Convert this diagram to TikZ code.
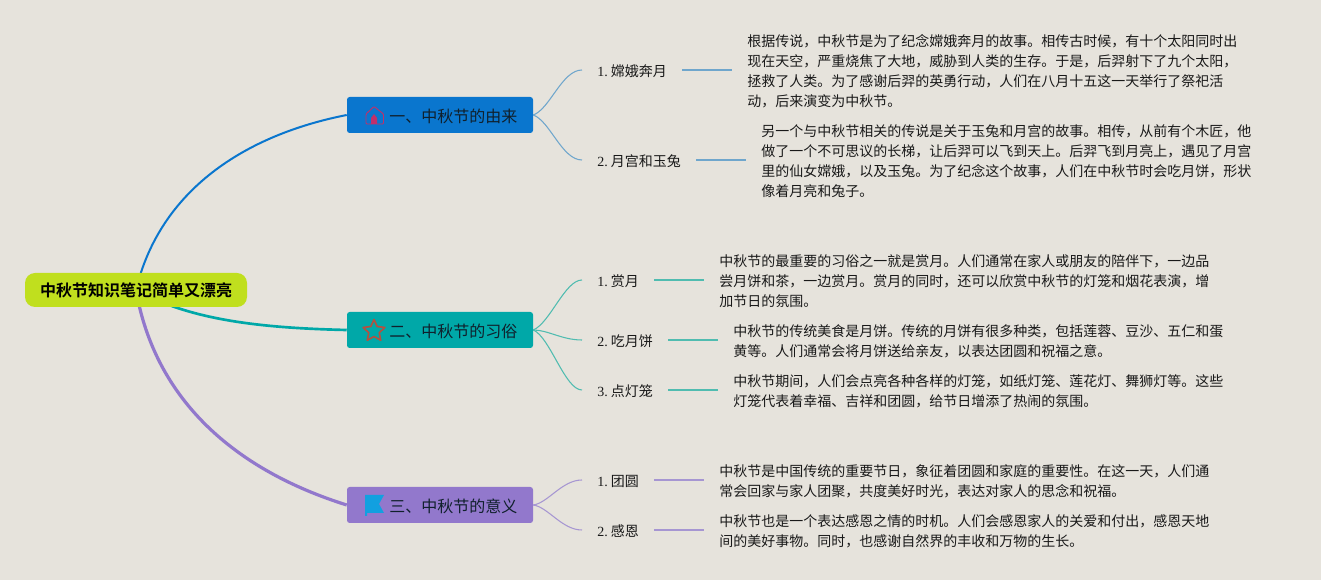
\documentclass[tikz,border=0pt]{standalone}
\usepackage{fontspec}
\setmainfont{Liberation Serif}
\newfontfamily\cjk{Noto Sans CJK SC}
\newfontfamily\cjkb{Noto Sans CJK SC Bold}
\usetikzlibrary{backgrounds,shapes.geometric}
\definecolor{bgc}{HTML}{E6E3DC}
\definecolor{rootc}{HTML}{C0DF1E}
\definecolor{blc}{HTML}{0A76CE}
\definecolor{tlc}{HTML}{00A8A8}
\definecolor{puc}{HTML}{9278CC}
\definecolor{bls}{HTML}{6FA6CC}
\definecolor{tls}{HTML}{50BCB0}
\definecolor{pus}{HTML}{A696D2}
\definecolor{homec}{HTML}{C0306A}
\definecolor{starc}{HTML}{B5503F}
\definecolor{flagc}{HTML}{12A0E0}
\definecolor{inkc}{HTML}{10202C}
\tikzset{
  rootbox/.style={fill=rootc,rounded corners=7.5pt,minimum width=222*.75pt,minimum height=34*.75pt,inner sep=0pt,font=\cjkb\fontsize{12}{14}\selectfont,text=black},
  branchbox/.style={rounded corners=2pt,minimum width=186*.75pt,minimum height=36*.75pt,inner sep=0pt},
  branchtext/.style={anchor=west,inner sep=0pt,font=\cjk\fontsize{12}{14}\selectfont,text=inkc},
  sublabel/.style={anchor=west,inner sep=0pt,font=\cjk\fontsize{10.5}{13}\selectfont,text=black!90},
  para/.style={anchor=west,inner sep=0pt,align=left,font=\cjk\fontsize{10.5}{15}\selectfont,text=black!90},
  sublink/.style={line width=.8pt},
  leaflink/.style={line width=1pt,shorten >=15*.75pt,shorten <=15*.75pt},
}
\newcommand{\num}[1]{{\rmfamily #1}~}
\begin{document}
\begin{tikzpicture}[x=.75pt,y=-.75pt]
\useasboundingbox (0,0) rectangle (1321,580);
\node[rootbox] (root) at (136,290) {中秋节知识笔记简单又漂亮};
\node[branchbox,fill=blc] (b1) at (440,115) {};
\node[branchbox,fill=tlc] (b2) at (440,330) {};
\node[branchbox,fill=puc] (b3) at (440,505) {};
\node[branchtext] (b1t) at (389,116) {一、中秋节的由来};
\node[branchtext] (b2t) at (389,331) {二、中秋节的习俗};
\node[branchtext] (b3t) at (389,506) {三、中秋节的意义};
% icons
\draw[draw=homec,line width=.7pt,line join=round,rounded corners=.8pt] (366,124) -- (366,114) -- (374,106.5) -- (383.5,114) -- (383.5,124) -- cycle;
\fill[homec] (371,124) -- (371,118) -- (374,114) -- (377,118) -- (377,124) -- cycle;
\node[star,star points=5,star point ratio=2.1,draw=starc,line width=1.2pt,line join=round,minimum size=23*.75pt,inner sep=0pt] (stari) at (374,331) {};
\fill[flagc] (365,495) -- (384,495) -- (379,504) -- (384,513) -- (367,513) -- (367,516) -- (365,516) -- cycle;
% labels
\node[sublabel] (a1) at (597,71) {\num{1.}嫦娥奔月};
\node[sublabel] (a2) at (597,161) {\num{2.}月宫和玉兔};
\node[sublabel] (c1) at (597,281) {\num{1.}赏月};
\node[sublabel] (c2) at (597,341) {\num{2.}吃月饼};
\node[sublabel] (c3) at (597,391) {\num{3.}点灯笼};
\node[sublabel] (d1) at (597,481) {\num{1.}团圆};
\node[sublabel] (d2) at (597,531) {\num{2.}感恩};
% free ends of the curved links
\coordinate (ea1) at (582,70);
\coordinate (ea2) at (582,160);
\coordinate (ec1) at (582,280);
\coordinate (ec2) at (582,340);
\coordinate (ec3) at (582,390);
\coordinate (ed1) at (582,480);
\coordinate (ed2) at (582,530);
% paragraphs
\node[para] (pa1) at (747,71) {根据传说，中秋节是为了纪念嫦娥奔月的故事。相传古时候，有十个太阳同时出\\现在天空，严重烧焦了大地，威胁到人类的生存。于是，后羿射下了九个太阳，\\拯救了人类。为了感谢后羿的英勇行动，人们在八月十五这一天举行了祭祀活\\动，后来演变为中秋节。};
\node[para] (pa2) at (761,161) {另一个与中秋节相关的传说是关于玉兔和月宫的故事。相传，从前有个木匠，他\\做了一个不可思议的长梯，让后羿可以飞到天上。后羿飞到月亮上，遇见了月宫\\里的仙女嫦娥，以及玉兔。为了纪念这个故事，人们在中秋节时会吃月饼，形状\\像着月亮和兔子。};
\node[para] (pc1) at (719,281) {中秋节的最重要的习俗之一就是赏月。人们通常在家人或朋友的陪伴下，一边品\\尝月饼和茶，一边赏月。赏月的同时，还可以欣赏中秋节的灯笼和烟花表演，增\\加节日的氛围。};
\node[para] (pc2) at (733,341) {中秋节的传统美食是月饼。传统的月饼有很多种类，包括莲蓉、豆沙、五仁和蛋\\黄等。人们通常会将月饼送给亲友，以表达团圆和祝福之意。};
\node[para] (pc3) at (733,391) {中秋节期间，人们会点亮各种各样的灯笼，如纸灯笼、莲花灯、舞狮灯等。这些\\灯笼代表着幸福、吉祥和团圆，给节日增添了热闹的氛围。};
\node[para] (pd1) at (719,481) {中秋节是中国传统的重要节日，象征着团圆和家庭的重要性。在这一天，人们通\\常会回家与家人团聚，共度美好时光，表达对家人的思念和祝福。};
\node[para] (pd2) at (719,531) {中秋节也是一个表达感恩之情的时机。人们会感恩家人的关爱和付出，感恩天地\\间的美好事物。同时，也感谢自然界的丰收和万物的生长。};
\begin{scope}[on background layer]
\fill[bgc] (0,0) rectangle (1321,580);
\draw[line width=1.5pt,blc] (root.center) .. controls (160,190) and (245,135) .. (b1.west);
\draw[line width=2pt,tlc] (root.center) .. controls (190,320) and (260,328) .. (b2.west);
\draw[line width=2.4pt,puc] (root.center) .. controls (155,400) and (235,470) .. (b3.west);
\draw[sublink,bls] (b1.east) .. controls (550,109) and (562,70) .. (ea1);
\draw[sublink,bls] (b1.east) .. controls (550,121) and (562,160) .. (ea2);
\draw[sublink,tls] (b2.east) .. controls (550,323) and (565,280) .. (ec1);
\draw[sublink,tls] (b2.east) .. controls (548,330) and (562,340) .. (ec2);
\draw[sublink,tls] (b2.east) .. controls (550,337) and (565,390) .. (ec3);
\draw[sublink,pus] (b3.east) .. controls (548,503) and (562,480) .. (ed1);
\draw[sublink,pus] (b3.east) .. controls (548,507) and (562,530) .. (ed2);
\end{scope}
\draw[leaflink,bls] (a1.east |- 0,70) -- (pa1.west |- 0,70);
\draw[leaflink,bls] (a2.east |- 0,160) -- (pa2.west |- 0,160);
\draw[leaflink,tls] (c1.east |- 0,280) -- (pc1.west |- 0,280);
\draw[leaflink,tls] (c2.east |- 0,340) -- (pc2.west |- 0,340);
\draw[leaflink,tls] (c3.east |- 0,390) -- (pc3.west |- 0,390);
\draw[leaflink,pus] (d1.east |- 0,480) -- (pd1.west |- 0,480);
\draw[leaflink,pus] (d2.east |- 0,530) -- (pd2.west |- 0,530);
\end{tikzpicture}
\end{document}
